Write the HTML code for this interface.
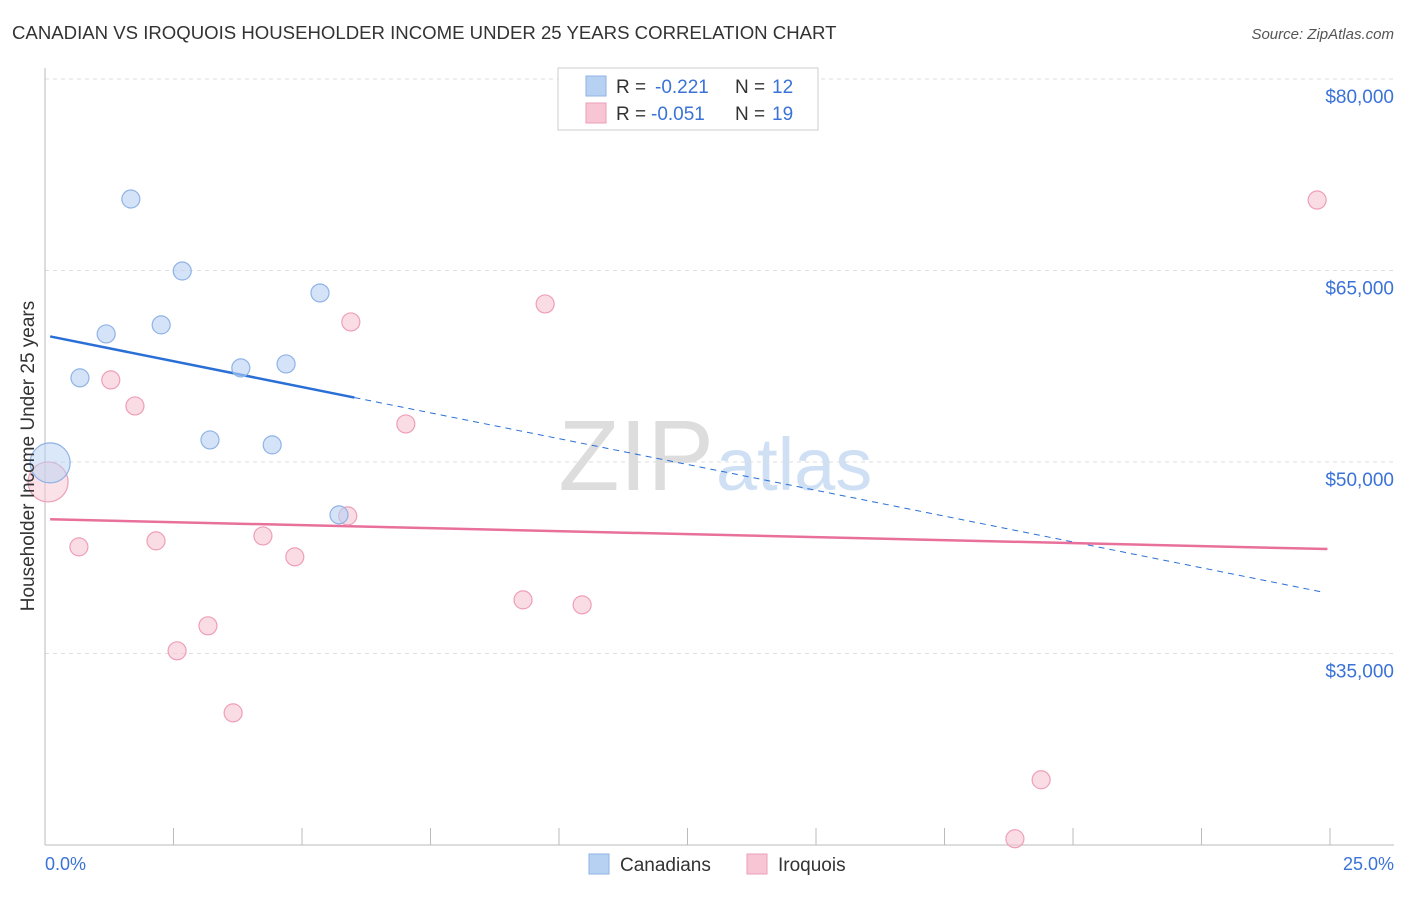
<!DOCTYPE html>
<html><head><meta charset="utf-8"><style>
body{margin:0;background:#fff;font-family:"Liberation Sans",sans-serif}
svg text{font-family:"Liberation Sans",sans-serif}
</style></head><body>
<svg id="c" width="1406" height="892">
<text x="12" y="39" font-size="18.6" fill="#333">CANADIAN VS IROQUOIS HOUSEHOLDER INCOME UNDER 25 YEARS CORRELATION CHART</text>
<text x="1394" y="39" font-size="15" fill="#555" font-style="italic" text-anchor="end">Source: ZipAtlas.com</text>
<text x="714" y="490" font-size="100" fill="#ddd" text-anchor="end" font-family="Liberation Serif">ZIP</text>
<text x="716" y="490" font-size="74" fill="#cfe0f5">atlas</text>
<g id="grid"></g><g id="axes"></g><g id="lines"></g><g id="pts"></g>
<text transform="translate(34,456) rotate(-90)" font-size="19" fill="#333" text-anchor="middle">Householder Income Under 25 years</text>
<text x="45" y="870" font-size="18" fill="#3a72d8">0.0%</text>
<text x="1394" y="870" font-size="18" fill="#3a72d8" text-anchor="end">25.0%</text>
<g>
<rect x="558" y="68" width="260" height="62" fill="#fff" stroke="#ccc"/>
<rect x="586" y="76" width="20" height="20" fill="#b7d1f3" stroke="#8fb3e6"/>
<rect x="586" y="103" width="20" height="20" fill="#f7c5d3" stroke="#ee9fb8"/>
<text x="616" y="93" font-size="19" fill="#333">R =</text>
<text x="655" y="93" font-size="19" fill="#3a72d8">-0.221</text>
<text x="735" y="93" font-size="19" fill="#333">N =</text>
<text x="772" y="93" font-size="19" fill="#3a72d8">12</text>
<text x="616" y="120" font-size="19" fill="#333">R =</text>
<text x="651" y="120" font-size="19" fill="#3a72d8">-0.051</text>
<text x="735" y="120" font-size="19" fill="#333">N =</text>
<text x="772" y="120" font-size="19" fill="#3a72d8">19</text>
</g>
<g>
<rect x="589" y="854" width="20" height="20" fill="#b7d1f3" stroke="#8fb3e6"/>
<text x="620" y="871" font-size="19" fill="#333">Canadians</text>
<rect x="747" y="854" width="20" height="20" fill="#f7c5d3" stroke="#ee9fb8"/>
<text x="778" y="871" font-size="19" fill="#333">Iroquois</text>
</g>
</svg>
<script>
const yTicks=[80000,65000,50000,35000];
const yTickLabels=["$80,000","$65,000","$50,000","$35,000"];
const canX=[1.67,2.67,1.19,2.26,0.68,3.81,4.69,5.35,3.21,4.42,5.72,0.1];
const canY=[70600,64960,60030,60740,56590,57370,57680,63240,51730,51340,45860,49930];
const canBig=[0,0,0,0,0,0,0,0,0,0,0,1];
const iroX=[24.75,9.73,5.95,1.28,1.75,7.02,0.06,5.89,0.66,2.16,4.24,4.86,9.3,10.45,3.17,2.57,3.66,19.38,18.87];
const iroY=[70520,62380,60970,56430,54390,52980,48440,45780,43350,43820,44210,42570,39200,38810,37170,35210,30350,25110,20490];
const iroBig=[0,0,0,0,0,0,1,0,0,0,0,0,0,0,0,0,0,0,0];
const NS="http://www.w3.org/2000/svg";
const X=v=>45+v/25*1285, Y=v=>79+(80000-v)/15000*191.5;
function mk(p,t,a){const e=document.createElementNS(NS,t);for(const k in a)e.setAttribute(k,a[k]);document.getElementById(p).appendChild(e);return e;}
yTicks.forEach((t,i)=>{
 const g=mk('grid','line',{x1:45,x2:1394,y1:Y(t),y2:Y(t),stroke:'#ddd','stroke-dasharray':'4,4'});
 
 
 const l=mk('grid','text',{x:1394,y:Y(t)+24,'font-size':19,fill:'#3a72d8','text-anchor':'end'});
 l.textContent=yTickLabels[i];
 
 
});
const ya=mk('axes','line',{x1:45,x2:45,y1:68,y2:845,stroke:'#bbb'});


const xa=mk('axes','line',{x1:45,x2:1394,y1:845,y2:845,stroke:'#bbb'});


for(let i=0;i<=10;i++){const t=mk('axes','line',{x1:X(i*2.5),x2:X(i*2.5),y1:828,y2:845,stroke:'#bbb'});
 
 }
function reg(xs,ys){const n=xs.length;let mx=0,my=0;for(let i=0;i<n;i++){mx+=xs[i];my+=ys[i];}mx/=n;my/=n;let sxy=0,sxx=0;for(let i=0;i<n;i++){sxy+=(xs[i]-mx)*(ys[i]-my);sxx+=(xs[i]-mx)**2;}const b=sxy/sxx;return [my-b*mx,b];}
const [ca,cb]=reg(canX,canY),[ia,ib]=reg(iroX,iroY);
const xmax=Math.max(...canX)+0.3;
let e=mk('lines','line',{x1:X(0.1),y1:Y(ca+cb*0.1),x2:X(xmax),y2:Y(ca+cb*xmax),stroke:'#2a6fd6','stroke-width':2.5});


e=mk('lines','line',{x1:X(xmax),y1:Y(ca+cb*xmax),x2:X(24.9),y2:Y(ca+cb*24.9),stroke:'#2a6fd6','stroke-width':1,'stroke-dasharray':'6,5'});


e=mk('lines','line',{x1:X(0.1),y1:Y(ia+ib*0.1),x2:X(24.95),y2:Y(ia+ib*24.95),stroke:'#e8709a','stroke-width':2.5});


function pts(xs,ys,big,f,s,n){xs.forEach((x,i)=>{const c=mk('pts','circle',{cx:X(x),cy:Y(ys[i]),r:big[i]?20:9,fill:f,'fill-opacity':big[i]?0.5:0.6,stroke:s,'stroke-width':1.2});
 
 });}
pts(iroX,iroY,iroBig,'#f7c5d3','#ee9fb8','iroquois-point');
pts(canX,canY,canBig,'#b7d1f3','#8fb3e6','canadians-point');
</script>
</body></html>
